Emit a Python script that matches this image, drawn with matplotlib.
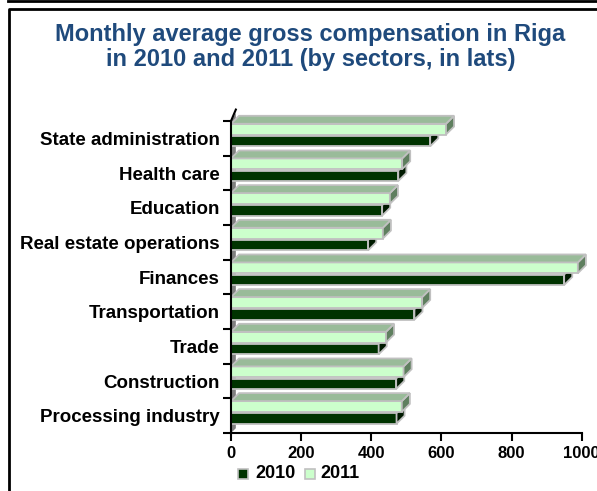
import matplotlib.pyplot as plt
from matplotlib.patches import Polygon, Rectangle
from matplotlib.lines import Line2D

plt.rcParams["font.family"] = ["Liberation Sans", "DejaVu Sans"]
plt.rcParams["font.weight"] = "bold"

# bottom to top, as drawn on the chart
sectors = [
    "Processing industry",
    "Construction",
    "Trade",
    "Transportation",
    "Finances",
    "Real estate operations",
    "Education",
    "Health care",
    "State administration",
]
pay_2010 = [472, 471, 421, 523, 950, 391, 431, 477, 568]
pay_2011 = [487, 492, 442, 545, 989, 433, 453, 488, 613]
x_ticks = [0, 200, 400, 600, 800, 1000]

EDGE = "#c0c0c0"
DX, DY = 23, 0.23  # fake 3d depth (value units, category units)


def bar3d(ax, y0, h, v, front, top, side, show_top=True):
    ax.add_patch(Rectangle((0, y0), v, h, facecolor=front, edgecolor=EDGE, lw=1.3, zorder=3, clip_on=False))
    ax.add_patch(Polygon([(v, y0), (v + DX, y0 + DY), (v + DX, y0 + h + DY), (v, y0 + h)],
                         facecolor=side, edgecolor=EDGE, lw=1.3, zorder=3, clip_on=False))
    if show_top:
        ax.add_patch(Polygon([(0, y0 + h), (DX, y0 + h + DY), (v + DX, y0 + h + DY), (v, y0 + h)],
                             facecolor=top, edgecolor=EDGE, lw=1.3, zorder=3, clip_on=False))


fig = plt.figure(figsize=(5.97, 4.91), dpi=100)
ax = fig.add_axes([231 / 597, 58 / 491, 350.7 / 597, 312 / 491])
ax.set_xlim(0, 1000)
ax.set_ylim(-0.5, len(sectors) - 0.5)

# grey side wall
n = len(sectors)
ax.add_patch(Polygon([(0, -0.5), (DX * 0.6, -0.5 + DY * 0.6), (DX * 0.6, n - 0.5 + DY), (0, n - 0.5)],
                     facecolor="#808080", edgecolor="none", zorder=1, clip_on=False))

for i in range(n):
    bar3d(ax, i - 0.23, 0.30, pay_2010[i], "#003300", "#003300", "#001a00", show_top=False)
    bar3d(ax, i + 0.11, 0.31, pay_2011[i], "#ccffcc", "#99bb99", "#5f7f5f")

# wall top edge
ax.plot([0, DX * 0.6], [n - 0.5, n - 0.5 + DY + 0.1], color="black", lw=1.5, clip_on=False, zorder=4)

for s in ["top", "right"]:
    ax.spines[s].set_visible(False)
for s in ["left", "bottom"]:
    ax.spines[s].set_linewidth(1.5)
    ax.spines[s].set_zorder(5)

ax.set_xticks(x_ticks)
ax.set_xticklabels([str(t) for t in x_ticks], fontsize=12, fontweight="bold")
ax.set_yticks([i - 0.5 for i in range(n + 1)])
ax.set_yticklabels([])
ax.set_yticks(range(n), minor=True)
ax.set_yticklabels(sectors, minor=True, fontsize=13.5, fontweight="bold")
ax.tick_params(axis="y", which="minor", length=0, pad=8)
ax.tick_params(axis="y", which="major", length=6, width=1.5)
ax.tick_params(axis="x", length=6, width=1.5, pad=3)

fig.text(0.52, 1 - 47 / 491, "Monthly average gross compensation in Riga\nin 2010 and 2011 (by sectors, in lats)",
         ha="center", va="center", fontsize=17, fontweight="bold", color="#1f4a7c", linespacing=1.15)

# legend
lx, ly = 243 / 597, 1 - 474 / 491
fig.patches.append(Rectangle((lx - 5 / 597, ly - 5 / 491), 10 / 597, 10 / 491, transform=fig.transFigure,
                             facecolor="#003300", edgecolor=EDGE, lw=1.2))
fig.text(lx + 12 / 597, ly, "2010", ha="left", va="center", fontsize=13, fontweight="bold")
lx2 = 310 / 597
fig.patches.append(Rectangle((lx2 - 5 / 597, ly - 5 / 491), 10 / 597, 10 / 491, transform=fig.transFigure,
                             facecolor="#ccffcc", edgecolor=EDGE, lw=1.2))
fig.text(lx2 + 10 / 597, ly, "2011", ha="left", va="center", fontsize=13, fontweight="bold")

# outer frame
fig.add_artist(Line2D([9 / 597, 9 / 597, 1.0], [0, 1 - 9 / 491, 1 - 9 / 491], transform=fig.transFigure,
                      color="black", lw=2))
fig.add_artist(Line2D([8 / 597, 1.0], [1 - 1 / 491, 1 - 1 / 491], transform=fig.transFigure,
                      color="black", lw=2))

fig.savefig("out.png", dpi=100)
